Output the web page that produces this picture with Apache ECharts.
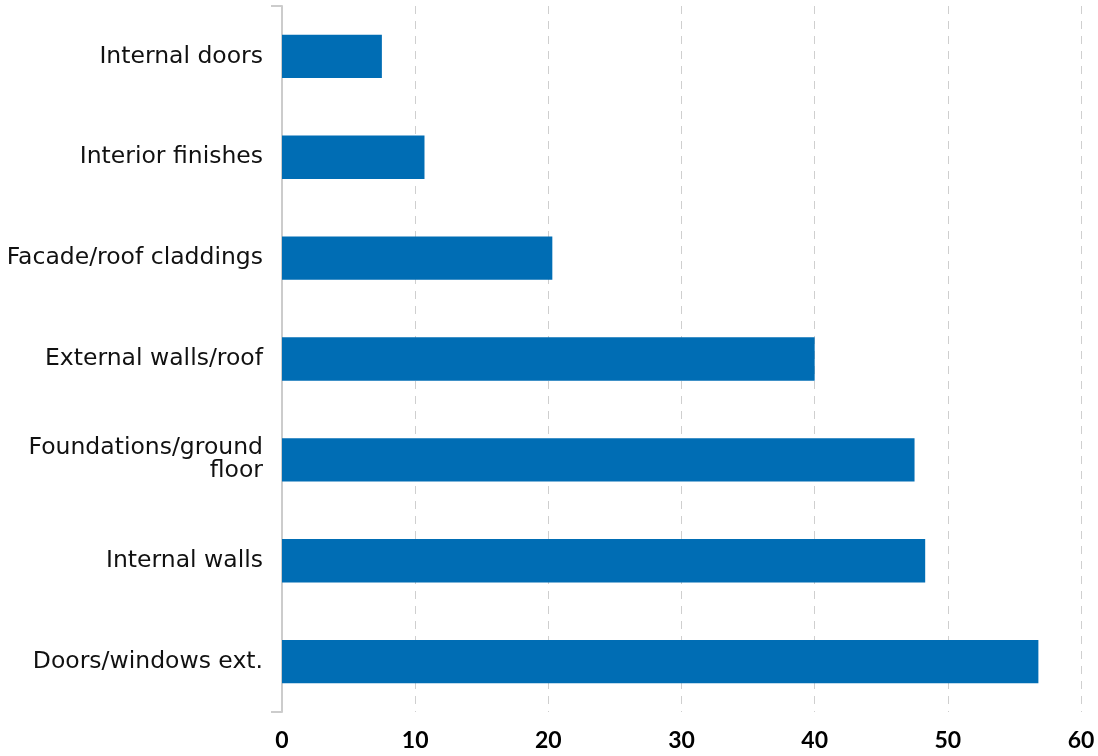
<!DOCTYPE html>
<html><head><meta charset="utf-8">
<script src="https://cdn.jsdelivr.net/npm/echarts@6/dist/echarts.min.js"></script>
<style>html,body{margin:0;padding:0;background:#fff}#c{width:1098px;height:756px}</style>
</head><body><div id="c"></div>
<script>
const categories = ["Internal doors", "Interior finishes", "Facade/roof claddings", "External walls/roof", "Foundations/ground\nfloor", "Internal walls", "Doors/windows ext."];
const values = [7.5, 10.7, 20.3, 40.0, 47.5, 48.3, 56.8];
const xTicks = [0, 10, 20, 30, 40, 50, 60];

const chart = echarts.init(document.getElementById('c'));
chart.setOption({
  animation: false,
  grid: {left: 282, right: 17, top: 6, bottom: 44, containLabel: false},
  xAxis: {
    type: 'value', min: xTicks[0], max: xTicks[xTicks.length-1], interval: 10,
    axisLine: {show: false}, axisTick: {show: false},
    axisLabel: {margin: 17, fontSize: 23, color: '#000', fontFamily: 'Lato', fontWeight: 'bold'},
    splitLine: {show: true, lineStyle: {color: '#cfcfcf', type: [8, 7], width: 1}}
  },
  yAxis: [{
    type: 'category', data: categories, inverse: true,
    axisLine: {show: false}, axisTick: {show: false},
    axisLabel: {margin: 19, fontSize: 23.5, color: '#111', fontFamily: 'DejaVu Sans', lineHeight: 23, align: 'right'}
  }, {
    type: 'value', position: 'left', min: 0, max: 1, interval: 1,
    axisLine: {show: true, lineStyle: {color: '#cccccc', width: 2}},
    axisTick: {show: true, length: 11, lineStyle: {color: '#cccccc', width: 2}},
    axisLabel: {show: false}, splitLine: {show: false}
  }],
  series: [{
    type: 'bar', data: values, yAxisIndex: 0, barWidth: '43%',
    itemStyle: {color: '#006db4'}
  }]
});
</script></body></html>
